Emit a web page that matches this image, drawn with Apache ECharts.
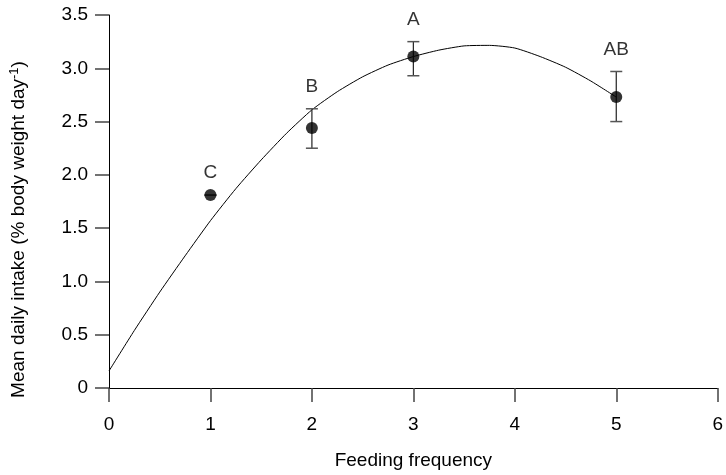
<!DOCTYPE html>
<html>
<head>
<meta charset="utf-8">
<script src="https://cdn.jsdelivr.net/npm/echarts@6/dist/echarts.min.js"></script>
<style>
html,body{margin:0;padding:0;background:#fff;}
#chart{width:726px;height:475px;}
</style>
</head>
<body>
<div id="chart"></div>
<script>
// Observed means with error bars
const frequency = [1, 2, 3, 5];
const meanIntake = [1.81, 2.44, 3.11, 2.73];
const upperErr = [1.81, 2.62, 3.25, 2.97];
const lowerErr = [1.81, 2.25, 2.93, 2.50];
const groupLetters = ['C', 'B', 'A', 'AB'];

// Fitted curve
const curveX = [0, 0.25, 0.5, 0.75, 1.0, 1.25, 1.5, 1.75, 2.0, 2.25, 2.5, 2.75, 3.0, 3.25, 3.5, 3.75, 4.0, 4.25, 4.5, 4.75, 5.0];
const curveY = [0.16, 0.54, 0.90, 1.24, 1.57, 1.87, 2.14, 2.39, 2.61, 2.78, 2.92, 3.03, 3.11, 3.17, 3.21, 3.215, 3.19, 3.11, 3.01, 2.88, 2.73];

const xTicks = ['0', '1', '2', '3', '4', '5', '6'];
const yTicks = ['0', '0.5', '1.0', '1.5', '2.0', '2.5', '3.0', '3.5'];

const FONT = '"Liberation Sans", Arial, sans-serif';
const FS = 19;
const chart = echarts.init(document.getElementById('chart'));

const pts = frequency.map((x, i) => [x, meanIntake[i]]);
const errs = frequency.map((x, i) => [x, lowerErr[i], upperErr[i]]);
const labelPts = frequency.map((x, i) => [x, upperErr[i], groupLetters[i]]);
const curve = curveX.map((x, i) => [x, curveY[i]]);

chart.setOption({
  animation: false,
  backgroundColor: '#fff',
  grid: { left: 107, right: 7, top: 15, bottom: 86, containLabel: false },
  xAxis: {
    type: 'value', min: 0, max: 6, interval: 1,
    name: 'Feeding frequency', nameLocation: 'middle', nameGap: 63,
    nameTextStyle: { fontFamily: FONT, fontSize: FS, color: '#000' },
    axisLine: { lineStyle: { color: '#000', width: 1 } },
    axisTick: { show: true, length: 14, lineStyle: { color: '#444', width: 1.5 } },
    axisLabel: { margin: 27, fontFamily: FONT, fontSize: FS, color: '#000',
      formatter: v => xTicks[Math.round(v)] },
    splitLine: { show: false }
  },
  yAxis: {
    type: 'value', min: 0, max: 3.5, interval: 0.5,
    name: 'Mean daily intake (% body weight day{sup|-1})', nameLocation: 'middle', nameGap: 79,
    nameRotate: 90,
    nameTextStyle: { fontFamily: FONT, fontSize: FS, color: '#000', padding: [0, 56, 0, 0],
      rich: { sup: { fontFamily: FONT, fontSize: 13, color: '#000', verticalAlign: 'top', padding: [0, 0, 9, 0] } } },
    axisLine: { show: true, lineStyle: { color: '#000', width: 1 } },
    axisTick: { show: true, length: 14, lineStyle: { color: '#444', width: 1.5 } },
    axisLabel: { margin: 21, fontFamily: FONT, fontSize: FS, color: '#000',
      formatter: v => yTicks[Math.round(v / 0.5)] },
    splitLine: { show: false }
  },
  series: [
    {
      type: 'line', data: curve, smooth: 0.2, showSymbol: false, symbol: 'none',
      lineStyle: { color: '#000', width: 1 }, z: 2
    },
    {
      type: 'custom', data: errs, z: 3,
      renderItem: function (params, api) {
        const x = api.value(0);
        const lo = api.coord([x, api.value(1)]);
        const hi = api.coord([x, api.value(2)]);
        const w = 6;
        const st = { stroke: '#222', lineWidth: 1.2 };
        return { type: 'group', children: [
          { type: 'line', shape: { x1: lo[0], y1: lo[1], x2: hi[0], y2: hi[1] }, style: st },
          { type: 'line', shape: { x1: lo[0] - w, y1: lo[1], x2: lo[0] + w, y2: lo[1] }, style: { stroke: '#555', lineWidth: 1.5 } },
          { type: 'line', shape: { x1: hi[0] - w, y1: hi[1], x2: hi[0] + w, y2: hi[1] }, style: { stroke: '#555', lineWidth: 1.5 } }
        ] };
      }
    },
    {
      type: 'scatter', data: pts, symbol: 'circle', symbolSize: 12,
      itemStyle: { color: '#000' }, z: 4
    },
    {
      type: 'scatter', data: labelPts, symbolSize: 1, itemStyle: { color: 'rgba(0,0,0,0)' }, z: 5,
      label: { show: true, position: 'top', distance: 12, fontFamily: FONT, fontSize: FS, color: '#000',
        formatter: p => p.data[2] }
    }
  ]
});
</script>
</body>
</html>
